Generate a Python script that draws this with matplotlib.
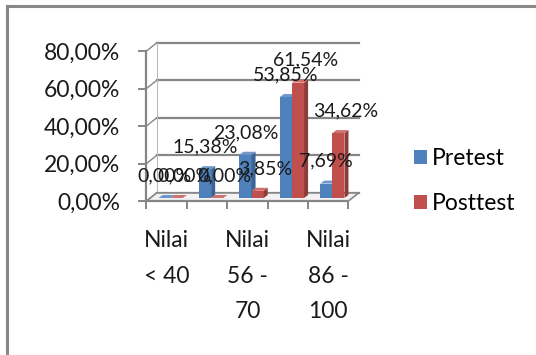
import matplotlib.pyplot as plt
from matplotlib.patches import Polygon, Rectangle
from matplotlib.lines import Line2D

plt.rcParams['font.family'] = ['Lato', 'DejaVu Sans']

categories = ['Nilai\n< 40', 'Nilai\n41 -\n55', 'Nilai\n56 -\n70', 'Nilai\n71 -\n85', 'Nilai\n86 -\n100']
pretest = [0.00, 15.38, 23.08, 53.85, 7.69]
posttest = [0.00, 0.00, 3.85, 61.54, 34.62]
yticks = [0, 20, 40, 60, 80]

blue, blue_side, blue_top = '#4F81BD', '#3A6496', '#6F97CC'
red, red_side, red_top = '#C0504D', '#8E3B39', '#D0716E'
grid_c = '#868686'

fig = plt.figure(figsize=(5.36, 3.55), dpi=100)
ax = fig.add_axes([0.2733, 0.4338, 0.407, 0.4542])
ax.set_xlim(-0.5, 4.9)
ax.set_ylim(0, 86)

# depth offsets (data units): back wall and bars
DX, DY = 0.25, 4.3
bdx, bdy = 0.1, 1.6
bw = 0.3

# back wall gridlines + side diagonals
for y in yticks:
    ax.plot([-0.5 + DX, 4.5 + DX], [y + DY, y + DY], color=grid_c, lw=1.6, clip_on=False, zorder=1)
    ax.plot([-0.5, -0.5 + DX], [y, y + DY], color=grid_c, lw=1.0, clip_on=False, zorder=1)
ax.plot([-0.5 + DX, -0.5 + DX], [DY, 80 + DY], color='#bbbbbb', lw=0.8, zorder=1)
# floor
ax.add_patch(Polygon([(-0.5, 0), (4.5, 0), (4.5 + DX, DY), (-0.5 + DX, DY)],
                     closed=True, facecolor='#f2f2f2', edgecolor=grid_c, lw=1.2, zorder=1))


def bar3d(x, h, front, side, top):
    x0, y0 = x - bw / 2, bdy
    ax.add_patch(Rectangle((x0, y0), bw, h, facecolor=front, edgecolor='none', zorder=3))
    ax.add_patch(Polygon([(x0 + bw, y0), (x0 + bw + bdx, y0 + bdy), (x0 + bw + bdx, y0 + h + bdy), (x0 + bw, y0 + h)],
                         closed=True, facecolor=side, edgecolor='none', zorder=3))
    ax.add_patch(Polygon([(x0, y0 + h), (x0 + bw, y0 + h), (x0 + bw + bdx, y0 + h + bdy), (x0 + bdx, y0 + h + bdy)],
                         closed=True, facecolor=top, edgecolor='none', zorder=3))


for i in range(len(categories)):
    xb = i - 0.15 + 0.1
    xr = i + 0.15 + 0.1
    bar3d(xb, pretest[i], blue, blue_side, blue_top)
    bar3d(xr, posttest[i], red, red_side, red_top)
    for xx, v in [(xb, pretest[i]), (xr + 0.18, posttest[i])]:
        ax.text(xx, v + 13.5, f'{v:.2f}%'.replace('.', ','), ha='center', va='center',
                fontsize=14, color='#1a1a1a', zorder=5)

# axes styling
for s in ['top', 'right']:
    ax.spines[s].set_visible(False)
ax.spines['left'].set_bounds(0, 80)
ax.spines['left'].set_position(('data', -0.5))
ax.spines['bottom'].set_bounds(-0.5, 4.5)
for s in ['left', 'bottom']:
    ax.spines[s].set_color(grid_c)
    ax.spines[s].set_linewidth(1.6)
ax.patch.set_visible(False)

ax.set_yticks(yticks)
ax.set_yticklabels([f'{t:.2f}%'.replace('.', ',') for t in yticks], fontsize=16.5, color='#1a1a1a')
ax.tick_params(axis='y', length=6, width=1.4, color=grid_c, pad=13)

ax.set_xticks([i - 0.5 for i in range(len(categories) + 1)])
ax.set_xticklabels([])
ax.tick_params(axis='x', which='major', length=6, width=1.4, color=grid_c)
ax.set_xticks(range(len(categories)), minor=True)
ax.set_xticklabels([c if i % 2 == 0 else '' for i, c in enumerate(categories)], minor=True,
                   fontsize=16.5, color='#1a1a1a')
ax.tick_params(axis='x', which='minor', length=0, pad=21)
for t in ax.get_xticklabels(minor=True):
    t.set_linespacing(1.85)
    t.set_va('top')

# legend
handles = [Rectangle((0, 0), 1, 1, facecolor=blue), Rectangle((0, 0), 1, 1, facecolor=red)]
fig.legend(handles, ['Pretest', 'Posttest'], loc='center left', bbox_to_anchor=(0.733, 0.49),
           frameon=False, fontsize=16.5, handlelength=0.6, handleheight=0.6, handletextpad=0.2,
           labelspacing=1.05)

# outer frame (only top and left edges visible)
fig.lines.append(Line2D([0.013, 0.013], [0, 0.982], transform=fig.transFigure, color='#888888', lw=2.2))
fig.lines.append(Line2D([0.013, 1.0], [0.982, 0.982], transform=fig.transFigure, color='#888888', lw=2.2))

fig.savefig('out.png', dpi=100)
